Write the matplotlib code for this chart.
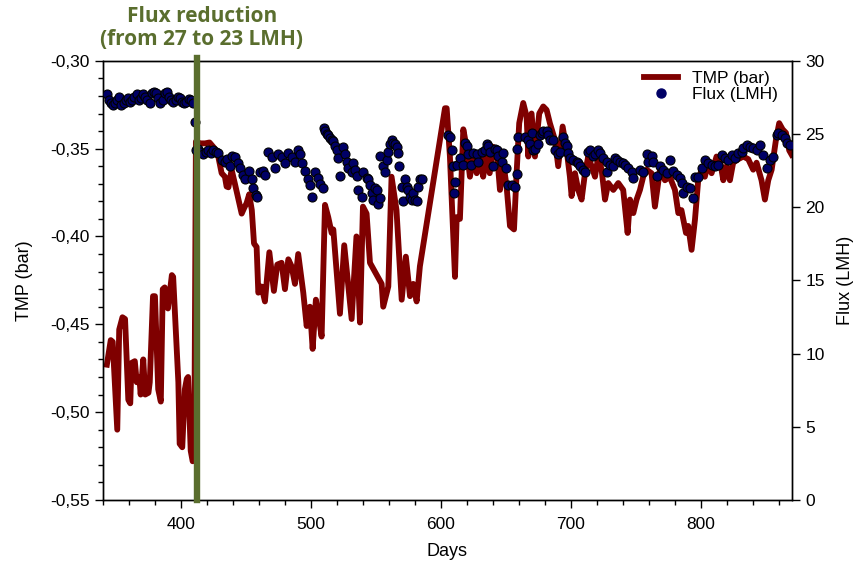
import matplotlib
matplotlib.use("Agg")
import matplotlib.pyplot as plt
from matplotlib.ticker import MultipleLocator, FuncFormatter
from matplotlib.lines import Line2D

plt.rcParams['font.family'] = ['Liberation Sans', 'DejaVu Sans']

# TMP (bar) vs days
tmp_days = [343, 346, 347.5, 351, 352.5, 355, 357, 359.5, 361, 362, 364.5, 366, 368, 369,
            371, 372.5, 375, 376, 378.5, 380, 382.5, 384.5, 386, 387.5, 390, 393, 394,
            398, 399, 401, 403, 404.5, 405.5, 407.5, 409, 410.2,
            411.5, 415, 418.5, 422, 426, 428.7, 431.3, 433.8, 435.1, 436.5, 439, 441.5,
            446.7, 448.5, 450.5, 452.5, 454.5, 456.2, 458.2, 459.5, 462, 464.6, 468,
            471.5, 474.1, 477.4, 480, 482.6, 485.1, 487.7, 490.2, 494.1, 496.7, 499.2,
            501.3, 503.8, 505.6, 508.2, 510.8, 513.3, 515.9, 517.2, 522.3, 525.6, 531.3,
            535, 537.7, 540, 542.8, 545.4, 554.4, 555.6, 559.5, 562, 565.8, 569.8, 573,
            576.2, 578.7, 581.3, 583.8, 603.1, 604.4, 606.9, 610.8, 612.1, 614.6, 617.2,
            619.2, 622.3, 624.9, 627.5, 630, 632.5, 635, 637.5, 640.2, 643, 645.4, 648,
            650.5, 653.1, 656.2, 658.2, 660.2, 663.3, 665.9, 667.2, 669.7, 672.3, 675.6,
            678.7, 681.3, 683.8, 687.7, 690.2, 693.6, 696.7, 699.2, 700.5, 703.1, 705.6,
            708.2, 710.8, 713.3, 715.9, 718.5, 721, 723.6, 726.2, 728.7, 732.6, 736.4,
            740.2, 743.6, 745.4, 748, 750.5, 753.1, 755.6, 758.2, 762, 764.6, 768.5,
            772.3, 776, 780, 782.6, 785, 788.5, 790.2, 792.8, 795.4, 797.9, 800.5, 803,
            805.6, 808.2, 812, 814.5, 817.2, 819.7, 822.3, 824.8, 828.7, 832.6, 836.4,
            840.2, 842.8, 846.6, 849.2, 851.8, 854.4, 857.7, 860.2, 862.8, 865.4, 867.9,
            869.8]
tmp_vals = [-0.473, -0.459, -0.460, -0.510, -0.453, -0.446, -0.447, -0.493, -0.495, -0.472,
            -0.471, -0.483, -0.480, -0.490, -0.470, -0.490, -0.489, -0.483, -0.434, -0.434,
            -0.487, -0.494, -0.430, -0.429, -0.441, -0.422, -0.423, -0.483, -0.518, -0.520,
            -0.487, -0.481, -0.480, -0.522, -0.528, -0.527,
            -0.346, -0.347, -0.347, -0.3465, -0.350, -0.3545, -0.364, -0.366, -0.3716,
            -0.372, -0.362, -0.370, -0.387, -0.384, -0.381, -0.376, -0.385, -0.404,
            -0.406, -0.432, -0.4285, -0.437, -0.409, -0.431, -0.416, -0.415, -0.430,
            -0.413, -0.417, -0.427, -0.410, -0.432, -0.451, -0.440, -0.464, -0.436,
            -0.444, -0.457, -0.382, -0.389, -0.398, -0.396, -0.444, -0.405, -0.447,
            -0.400, -0.449, -0.383, -0.387, -0.415, -0.427, -0.440, -0.4285, -0.366,
            -0.385, -0.436, -0.4115, -0.434, -0.427, -0.437, -0.417, -0.327, -0.327,
            -0.3545, -0.423, -0.389, -0.390, -0.339, -0.347, -0.366, -0.3545, -0.364,
            -0.355, -0.366, -0.352, -0.364, -0.349, -0.352, -0.3735, -0.358, -0.3716,
            -0.394, -0.396, -0.364, -0.3355, -0.324, -0.3317, -0.3545, -0.330, -0.3545,
            -0.330, -0.326, -0.328, -0.3355, -0.345, -0.360, -0.3374, -0.351, -0.366,
            -0.377, -0.364, -0.3735, -0.379, -0.364, -0.3545, -0.360, -0.366, -0.3545,
            -0.362, -0.379, -0.3696, -0.3735, -0.3696, -0.3735, -0.398, -0.379, -0.3867,
            -0.379, -0.3735, -0.366, -0.362, -0.364, -0.383, -0.362, -0.368, -0.366,
            -0.3735, -0.3867, -0.385, -0.398, -0.394, -0.4076, -0.3905, -0.368, -0.362,
            -0.366, -0.358, -0.364, -0.3545, -0.356, -0.368, -0.360, -0.368, -0.358,
            -0.356, -0.3545, -0.356, -0.362, -0.358, -0.368, -0.379, -0.368, -0.362,
            -0.345, -0.3355, -0.339, -0.341, -0.351, -0.3535]

# Flux (LMH) vs days
flux_days = [343, 344.5, 346, 347.5, 349, 351, 352.5, 354, 356, 357.5, 359, 361, 362.5, 364,
             366, 367.5, 369, 371, 372.5, 374, 376, 377.5, 379, 381, 382.5, 384, 386,
             387.5, 389, 391, 392.5, 394, 396, 397.5, 399, 401, 402.5, 404, 406, 407.5,
             409, 410.5,
             411.5, 413, 415, 417.2, 419, 421, 423, 424.8, 427, 428.7, 431.2, 433.8, 435.5,
             437.7, 439, 441.5, 444.1, 445.4, 447.5, 449.2, 452.5, 454.4, 455.6, 457.7,
             458.7, 460.8, 463.3, 464.6, 467.2, 469.8, 472.3, 474.8, 477.5, 480, 482.5,
             485.2, 487.7, 490.2, 491.5, 492.8, 495.4, 497.9, 499.2, 501, 503.1, 505.6,
             506.9, 509, 510, 511, 512.1, 513.3, 514.5, 515.9, 517.2, 518.5, 519.8, 521,
             522.3, 524.8, 526.2, 527.5, 528.7, 531.3, 532.5, 533.8, 535.1, 536.4, 539,
             540.2, 542.8, 544, 545.4, 546.7, 548, 549.2, 550.5, 551.8, 553, 553.1, 555.6,
             556.9, 558.2, 559.5, 560.8, 562.1, 563.3, 564.6, 565.9, 567.2, 568, 569.8,
             571, 572.3, 573.6, 574.8, 576.2, 577.4, 578.7, 580, 581.3, 582.5, 583.8,
             585.2,
             605.6, 606.9, 608.2, 609, 610, 610.8, 612, 614.6, 617.2, 618.5, 619.8, 621,
             622.8, 624.8, 627.4, 628.7, 631.3, 633.8, 635.2, 636.4, 637.7, 639.8, 641.5,
             642.8, 644.1, 646.7, 647.9, 650, 651.8, 654.4, 656.9, 658.2, 658.2, 659.5,
             664.6, 667.2, 668.5, 669.8, 671, 672.3, 674.9, 676.2, 677.5, 678.7, 681.3,
             682.5, 683.8, 686.4, 687.7, 690.2, 691.5, 694.1, 695.4, 696.7, 697.9, 699.2,
             701.8, 704.4, 705.6, 706.9, 709.5, 710.8, 713.3, 714.6, 717.2, 718.5, 721,
             722.3, 724.8, 727.5, 727.5, 730, 732.5, 733.8, 735.2, 737.7, 740.2, 741.5,
             744.1, 746.7, 748, 753.1, 755.6, 758.2, 759.5, 762.1, 763.3, 766,
             768.5, 771, 773.6, 776.2, 778.7, 781.3, 783.8, 785.2, 786.4, 789, 791.5,
             794.1, 795.4, 797.9, 800.5, 803.1, 805.6, 808.2, 810.8, 813.3, 815.9, 818.5,
             821, 823.6, 826.2, 828.7, 831.3, 832.5, 835.2, 837.7, 840.2, 842.8, 845.4,
             847.9, 850.5, 853.1, 855.6, 858.2, 859.5, 862.1, 864.6, 865.9, 868.5]
flux_vals = [27.7, 27.35, 27.1, 27.0, 27.1, 27.35, 27.55, 27.0, 27.1, 27.35, 27.45, 27.2,
             27.35, 27.55, 27.7, 27.35, 27.45, 27.7, 27.55, 27.35, 27.1, 27.8, 27.9, 27.8,
             27.45, 27.1, 27.35, 27.8, 27.9, 27.55, 27.35, 27.2, 27.35, 27.55, 27.45, 27.2,
             27.1, 27.2, 27.4, 27.3, 27.15, 25.85,
             23.9, 24.0, 23.8, 23.6, 23.8, 23.9, 23.7, 23.9, 23.8, 23.7, 23.2, 23.1, 23.3,
             22.8, 23.5, 23.4, 23.0, 22.7, 22.2, 21.9, 22.5, 21.9, 21.3, 20.8, 20.7, 22.4,
             22.5, 22.2, 23.8, 23.4, 22.7, 23.6, 23.4, 23.0, 23.7, 23.4, 23.1, 23.9, 23.6,
             23.0, 22.5, 21.9, 21.5, 20.7, 22.4, 22.0, 21.6, 21.3, 25.4, 25.2, 25.0, 24.9,
             24.7, 24.6, 24.5, 24.2, 23.9, 23.35, 22.1, 24.1, 23.6, 23.1, 22.7, 22.4, 23.0,
             22.55, 22.1, 21.2, 20.7, 22.4, 22.0, 21.9, 21.5, 20.95, 20.5, 21.3, 21.2,
             20.2, 20.6, 23.5, 22.8, 22.4, 23.2, 23.8, 24.3, 24.6, 24.4, 24.3, 24.1, 23.7,
             22.8, 21.4, 20.4, 21.9, 21.4, 21.2, 20.7, 20.5, 20.95, 20.5, 20.4, 21.4, 21.9,
             21.9,
             24.95, 24.8, 23.9, 22.8, 20.95, 21.75, 22.9, 23.35, 22.9, 24.4, 24.15, 23.6,
             22.9, 23.7, 23.6, 23.1, 23.8, 23.9, 24.3, 24.15, 23.8, 22.8, 24.0, 23.9, 23.5,
             23.1, 23.7, 22.7, 21.5, 21.5, 21.4, 22.3, 24.0, 24.8, 24.8, 24.6, 24.3, 25.05,
             23.9, 24.0, 24.3, 24.9, 25.05, 25.2, 25.2, 24.9, 24.6, 24.6, 23.9, 23.6, 23.8,
             24.8, 24.4, 24.15, 23.7, 23.35, 23.2, 23.1, 23.0, 22.8, 22.55, 22.4, 23.8,
             23.9, 23.5, 23.6, 23.9, 23.7, 23.35, 23.1, 22.4, 22.9, 22.8, 23.35, 23.2, 23.1,
             23.0, 22.9, 22.7, 22.4, 22.0, 22.55, 22.4, 23.6, 23.1, 23.5, 23.1, 22.1,
             22.78, 22.55, 22.32, 23.23, 22.44, 22.21, 21.98, 21.64, 20.96, 21.41, 21.3,
             20.61, 22.09, 22.09, 22.66, 23.23, 23.0, 22.89, 22.78, 22.89, 23.57, 23.35,
             23.23, 23.57, 23.35, 23.69, 23.8, 24.03, 24.26, 24.14, 24.03, 23.92, 24.26,
             23.57, 22.66, 23.23, 23.46, 24.94, 25.06, 24.94, 24.72, 24.37, 24.26]

reduction_day = 412.5

fig = plt.figure(figsize=(8.58, 5.63), dpi=100)
ax = fig.add_axes([0.12, 0.112, 0.803, 0.78])
ax2 = ax.twinx()

ax.plot(tmp_days, tmp_vals, color='#7f0000', lw=4.2, solid_joinstyle='round', zorder=2)
ax2.plot(flux_days, flux_vals, 'o', ms=6.5, mfc='#000066', mec='black', mew=0.8, zorder=3)
ax2.axvline(reduction_day, ymin=0, ymax=1.006, color='#5a6e2e', lw=4.6, zorder=4,
            clip_on=False)

ax.set_xlim(340, 870)
ax.set_ylim(-0.55, -0.30)
ax2.set_ylim(0, 30)

ax.xaxis.set_major_locator(MultipleLocator(100))
ax.xaxis.set_minor_locator(MultipleLocator(20))
ax.yaxis.set_major_locator(MultipleLocator(0.05))
ax.yaxis.set_minor_locator(MultipleLocator(0.01))
ax2.yaxis.set_major_locator(MultipleLocator(5))
ax.yaxis.set_major_formatter(FuncFormatter(lambda v, p: f"{v:.2f}".replace('.', ',')))

ax.tick_params(axis='both', which='major', direction='out', length=6, width=1, labelsize=12.5)
ax.tick_params(axis='both', which='minor', direction='out', length=3.5, width=1)
ax.tick_params(axis='x', which='major', pad=6)
ax2.tick_params(axis='y', which='major', direction='out', length=6, width=1, labelsize=12.5)

for a in (ax, ax2):
    for s in a.spines.values():
        s.set_linewidth(1)

ax.set_xlabel('Days', fontsize=13, labelpad=8)
ax.set_ylabel('TMP (bar)', fontsize=13, labelpad=12)
ax2.set_ylabel('Flux (LMH)', fontsize=13, labelpad=9)

fig.text(0.235, 0.99, 'Flux reduction\n(from 27 to 23 LMH)', ha='center', va='top',
         fontsize=15, fontweight='bold', color='#5a6e2e', family='Open Sans',
         linespacing=1.15)

handles = [Line2D([], [], color='#7f0000', lw=4.2),
           Line2D([], [], ls='none', marker='o', ms=6.5, mfc='#000066', mec='#000066')]
ax2.legend(handles, ['TMP (bar)', 'Flux (LMH)'], loc='upper right', frameon=False,
           fontsize=12.5, handlelength=2.0, labelspacing=0.05, borderaxespad=0.2,
           handletextpad=0.8, bbox_to_anchor=(0.995, 1.0))

fig.savefig('out.png', dpi=100)
